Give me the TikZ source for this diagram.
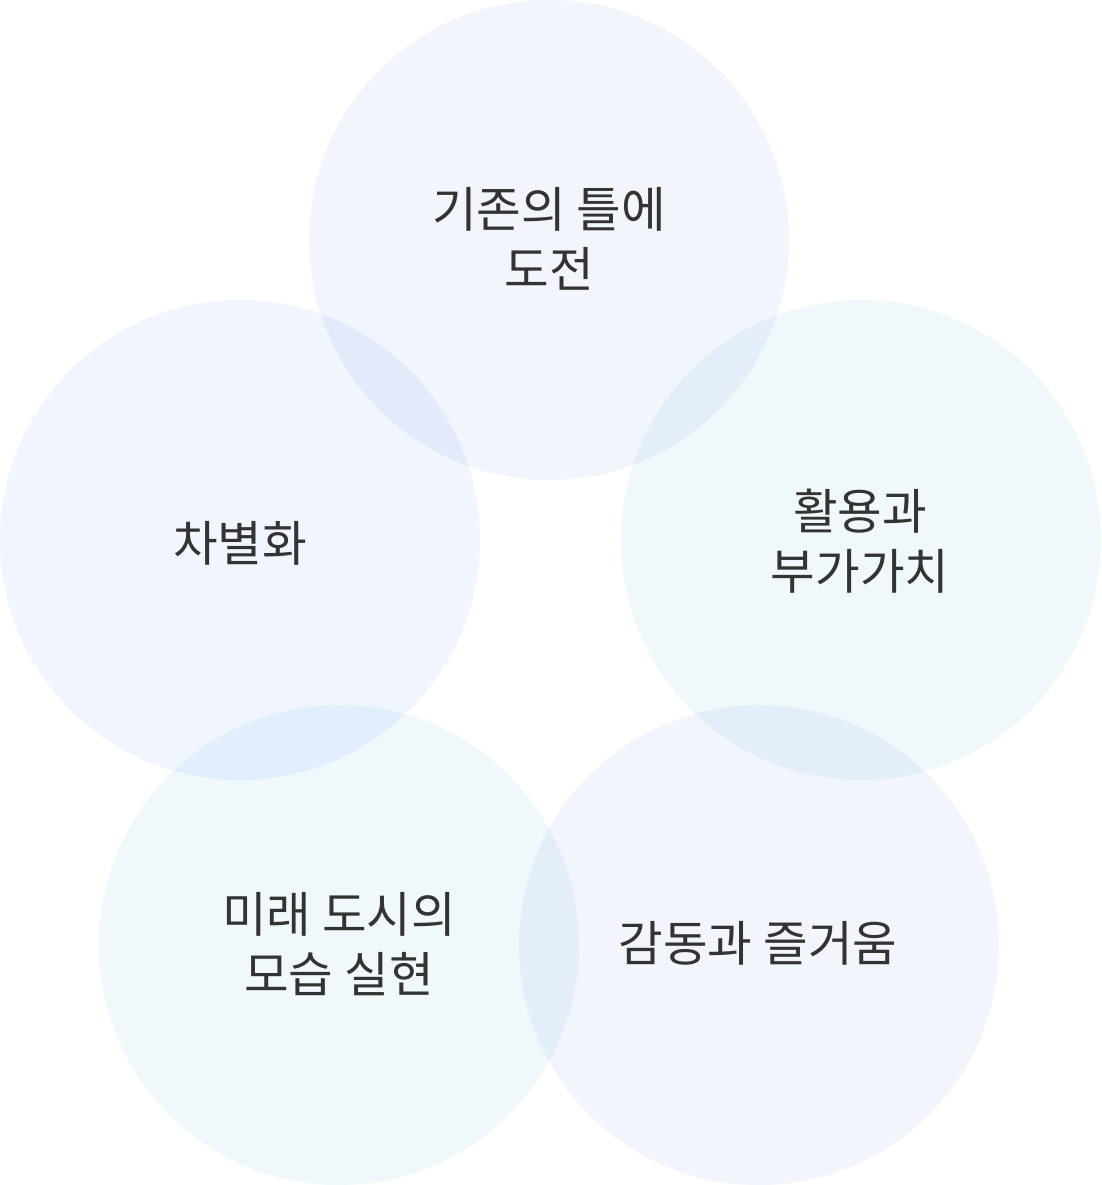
\documentclass[tikz,border=0pt]{standalone}
\usepackage{fontspec}
\newfontfamily\kr{Noto Sans CJK KR}
\definecolor{cgray}{HTML}{F2F5FB}
\definecolor{cblue}{HTML}{F0F5FE}
\definecolor{ccyan}{HTML}{F0F8FC}
\definecolor{txt}{HTML}{333333}
\tikzset{
  bubble/.style={circle, minimum size=480pt, inner sep=0pt, draw=none},
  label/.style={font=\kr\fontsize{48.5pt}{60pt}\selectfont, text=txt, align=center, inner sep=0pt},
}
\begin{document}
\begin{tikzpicture}[x=1pt,y=1pt]
\useasboundingbox (0,0) rectangle (1101,1185);
\fill[white] (0,0) rectangle (1101,1185);
\begin{scope}[blend group=multiply]
\node[bubble, fill=cgray] (top) at (549,945) {};
\node[bubble, fill=cblue] (left) at (240,645) {};
\node[bubble, fill=ccyan] (right) at (861,645) {};
\node[bubble, fill=ccyan] (bl) at (339,240) {};
\node[bubble, fill=cgray] (br) at (759,240) {};
\end{scope}
\node[label] (t1) at (549,946) {기존의 틀에\\도전};
\node[label] (t2) at (240,642) {차별화};
\node[label] (t3) at (860,644) {활용과\\부가가치};
\node[label] (t4) at (339,241) {미래 도시의\\모습 실현};
\node[label] (t5) at (758,242) {감동과 즐거움};
\end{tikzpicture}
\end{document}
